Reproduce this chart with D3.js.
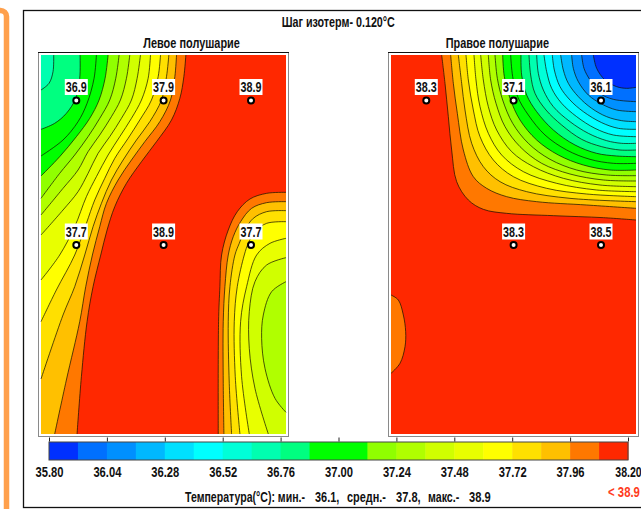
<!DOCTYPE html>
<html><head><meta charset="utf-8">
<script src="https://cdnjs.cloudflare.com/ajax/libs/d3/7.8.5/d3.min.js"></script>
<style>html,body{margin:0;background:#fff;overflow:hidden}svg{display:block}text{font-family:"Liberation Sans",sans-serif;font-weight:700;fill:#111}</style>
</head><body><script>
const bandColors=["#0030ff","#0070ff","#0090ff","#00b8ff","#00e0ff","#00ffff","#00ffd8","#00ffb0","#00ff80","#00ff00","#00ff00","#90ff00","#b0ff00","#d0ff00","#e8ff00","#ffff00","#ffe000","#ffc000","#ff7800","#ff2800"];
const tickValues=[35.80,36.04,36.28,36.52,36.76,37.00,37.24,37.48,37.72,37.96,38.20];
const electrodeRows=["top","top","top","mid","mid","mid"];
const electrodeCols=[0,1,2,0,1,2];
const leftTemps=["36.9","37.9","38.9","37.7","38.9","37.7"];
const rightTemps=["38.3","37.1","36.1",null,"38.3","38.5"];
const footerParts=["Температура(°C): мин.-","36.1,","средн.-","37.8,","макс.-","38.9"];
const footerStart=[185,315,347,396,428,469];
const footerEnd=[305,339.3,386,420.7,459.3,490.7];
const leftUpper=[
[38.08,[[558,165],[552,230],[540,295],[515,360],[470,425],[425,485],[380,550],[345,620],[322,690],[303,765],[280,860],[262,965],[245,1130],[232,1302]]],
[37.96,[[530,165],[525,230],[512,300],[480,365],[435,425],[395,480],[355,540],[320,610],[300,680],[278,765],[258,860],[240,965],[200,1140],[165,1302]]],
[37.84,[[507,165],[500,230],[485,300],[450,365],[410,420],[370,480],[335,540],[305,610],[280,680],[255,765],[225,860],[190,945],[124,1137]]],
[37.72,[[482,165],[475,230],[455,300],[420,360],[385,415],[345,475],[315,535],[285,600],[260,670],[225,765],[170,870],[124,965]]],
[37.60,[[452,165],[445,235],[425,300],[395,355],[360,410],[325,465],[290,530],[260,590],[225,680],[180,765],[124,840]]],
[37.48,[[422,165],[412,235],[395,300],[365,355],[330,410],[295,460],[265,520],[235,575],[190,630],[124,705]]],
[37.36,[[390,165],[380,235],[362,300],[335,350],[300,405],[265,455],[235,510],[190,565],[124,645]]],
[37.24,[[358,165],[348,235],[330,300],[300,355],[265,410],[225,465],[180,520],[124,595]]],
[37.12,[[325,165],[316,235],[298,300],[270,355],[230,410],[180,470],[124,528]]],
[37.00,[[290,165],[283,235],[262,310],[235,365],[190,420],[124,468]]],
[36.88,[[241,165],[240,235],[228,295],[200,340],[165,370],[124,388]]],
[36.76,[[162,165],[160,215],[148,250],[124,270]]]];
const leftLower=[
[38.08,[[858,577],[800,580],[750,597],[712,635],[685,690],[665,765],[660,860],[656,965],[655,1302]]],
[37.96,[[858,605],[800,608],[755,625],[722,665],[700,710],[685,765],[675,860],[670,965],[670,1150],[672,1302]]],
[37.84,[[858,632],[800,635],[760,655],[735,690],[718,730],[705,765],[690,860],[685,965],[688,1150],[695,1302]]],
[37.72,[[858,665],[800,670],[765,695],[745,730],[733,765],[712,860],[703,965],[706,1130],[720,1302]]],
[37.60,[[858,715],[810,730],[770,765],[740,860],[722,965],[725,1130],[748,1302]]],
[37.48,[[858,773],[800,795],[765,845],[748,935],[748,1045],[765,1165],[805,1302]]],
[37.36,[[858,845],[815,875],[790,945],[785,1015],[795,1105],[825,1195],[858,1237]]]];
const rightUpper=[
[38.08,[[365,165],[375,250],[385,350],[395,450],[410,545],[445,600],[490,628],[560,640],[700,647],[850,653],[948,660]]],
[37.96,[[392,165],[400,250],[412,340],[430,450],[460,530],[500,565],[560,590],[650,605],[800,615],[948,625]]],
[37.84,[[415,165],[425,250],[435,330],[455,430],[490,500],[540,545],[620,575],[750,595],[948,605]]],
[37.72,[[438,165],[445,240],[460,330],[480,410],[520,480],[580,530],[680,565],[800,582],[948,590]]],
[37.60,[[462,165],[468,240],[480,320],[505,400],[545,465],[610,515],[710,550],[830,570],[948,575]]],
[37.48,[[482,165],[490,240],[505,320],[530,390],[575,455],[640,500],[730,535],[840,555],[948,560]]],
[37.36,[[505,165],[512,240],[528,310],[555,380],[600,440],[665,490],[750,522],[850,540],[948,543]]],
[37.24,[[525,165],[532,235],[548,300],[578,370],[625,430],[690,478],[770,510],[860,525],[948,527]]],
[37.12,[[548,165],[553,230],[570,295],[600,360],[650,420],[715,465],[790,495],[870,510],[948,510]]],
[37.00,[[572,165],[578,230],[593,290],[625,345],[675,405],[740,450],[810,478],[880,490],[948,490]]],
[36.88,[[603,165],[605,225],[620,285],[650,335],[700,390],[765,435],[830,460],[890,468],[948,470]]],
[36.76,[[627,165],[632,225],[645,280],[678,330],[725,375],[785,418],[845,440],[900,450],[948,450]]],
[36.64,[[650,165],[655,220],[670,270],[700,320],[750,365],[805,400],[860,422],[905,430],[948,430]]],
[36.52,[[672,165],[680,215],[695,265],[725,310],[770,350],[825,385],[880,405],[948,410]]],
[36.40,[[697,165],[703,210],[720,260],[750,300],[790,335],[845,368],[895,385],[948,388]]],
[36.28,[[722,165],[730,210],[745,250],[775,290],[815,325],[860,350],[905,362],[948,365]]],
[36.16,[[755,165],[760,205],[775,245],[805,285],[845,312],[890,330],[948,335]]],
[36.04,[[785,165],[792,205],[810,240],[840,280],[880,298],[948,305]]],
[35.92,[[820,165],[830,205],[855,240],[890,260],[920,265],[948,262]]]];
const rightBump=[[38.08,[[213,885],[235,900],[250,945],[257,995],[255,1040],[240,1090],[213,1120]]]];

const svg=d3.select("body").append("svg").attr("width",641).attr("height",509);
svg.append("rect").attr("x",-20).attr("y",10.5).attr("width",26.5).attr("height",520).attr("rx",6).attr("fill","none").attr("stroke","#ffa04c").attr("stroke-width",5.5);
svg.append("rect").attr("x",23.5).attr("y",10.5).attr("width",640).attr("height",497).attr("fill","#fff").attr("stroke","#111").attr("stroke-width",1.3);

const FS=15;
function label(x,y,len,t){
  const el=svg.append("text").attr("font-size",FS).text(t);
  const w=el.node().getComputedTextLength();
  el.attr("transform",`translate(${x},${y}) scale(${len/w},1)`);
  return el;
}
const band=d3.scaleQuantize().domain([35.8,38.2]).range(bandColors);
const below=l=>band(l-0.06);
const ty=d3.scaleLinear().domain([165,1302]).range([55,434]);
const colX=[76.3,163.6,251];
function panel(xDom,x0,families,temps,title,tx0,tw){
  const x1=x0+245;
  const tx=d3.scaleLinear().domain(xDom).range([x0,x1]);
  const line=d3.line().x(d=>tx(d[0])).y(d=>ty(d[1])).curve(d3.curveCatmullRom.alpha(0.5));
  svg.append("rect").attr("x",x0-2.5).attr("y",52.5).attr("width",250).attr("height",384).attr("fill","#fff").attr("stroke","#8a8a8a");
  svg.append("path").attr("d",`M${x0-3},52.5H${x1+3}`).attr("stroke","#111");
  const g=svg.append("g");
  g.append("rect").attr("x",x0).attr("y",55).attr("width",245).attr("height",379).attr("fill",band(38.1));
  const corner=(fam,pts)=>fam.corners(pts).map(c=>[tx(c[0]),ty(c[1])]);
  families.forEach(fam=>fam.lines.forEach(([l,pts])=>{
    const cs=corner(fam,pts);
    g.append("path").attr("d",line(pts)+cs.map(c=>"L"+c).join("")+"Z").attr("fill",below(l));
  }));
  families.forEach(fam=>fam.lines.forEach(([l,pts])=>{
    g.append("path").attr("d",line(pts)).attr("fill","none").attr("stroke","#101000").attr("stroke-width",0.7);
  }));
  label(tx0,48.3,tw,title);
  temps.forEach((t,i)=>{
    if(t===null)return;
    const cx=x0+colX[electrodeCols[i]]-41, cy=electrodeRows[i]==="top"?100.5:245;
    svg.append("rect").attr("x",cx-11.5).attr("y",cy-21.5).attr("width",23).attr("height",16).attr("fill","#fff");
    label(cx-10.5,cy-8.5,21,t);
    svg.append("circle").attr("cx",cx).attr("cy",cy).attr("r",3).attr("fill","#fff").attr("stroke","#000").attr("stroke-width",2);
  });
}
const TL=[124,165],BL=[124,1302],BR=[858,1302],TRr=[948,165];
panel([124,858],41,[
 {lines:leftUpper,corners:p=>p[p.length-1][1]===1302?[BL,TL]:[TL]},
 {lines:leftLower,corners:p=>p[p.length-1][1]===1302?[BR]:[]}],leftTemps,"Левое полушарие",143.3,96.7);
panel([213,948],391,[
 {lines:rightUpper,corners:()=>[TRr]},
 {lines:rightBump,corners:()=>[]}],rightTemps,"Правое полушарие",445.7,103.3);

label(281.7,27.3,113.3,"Шаг изотерм- 0.120°C");

const cx=d3.scaleLinear().domain([35.8,38.2]).range([49,628]);
const cb=svg.append("g");
cb.selectAll("rect").data(bandColors).join("rect")
 .attr("x",(d,i)=>cx(35.8+i*0.12)).attr("y",442).attr("height",18)
 .attr("width",(d,i)=>cx(35.8+(i+1)*0.12)-cx(35.8+i*0.12)+0.5).attr("fill",d=>d);
svg.append("rect").attr("x",49).attr("y",442).attr("width",579).attr("height",18).attr("fill","none").attr("stroke","#444");
const axT=svg.append("g").attr("transform","translate(0,441.5)").call(d3.axisTop(cx).tickValues(tickValues).tickSize(4).tickFormat(""));
axT.select(".domain").remove();
axT.selectAll("line").attr("stroke","#222");
const axB=svg.append("g").attr("transform","translate(0,460)").call(d3.axisBottom(cx).tickValues(tickValues).tickSize(0).tickFormat(d3.format(".2f")));
axB.select(".domain").remove();
axB.selectAll("text").each(function(d,i){
  const sel=d3.select(this).attr("font-size",FS).attr("font-family",null).attr("y",0).attr("dy",0).attr("text-anchor","start");
  const w=this.getComputedTextLength(), len=i===tickValues.length-1?26.5:28;
  sel.attr("transform",`translate(${-len/2},16.7) scale(${len/w},1)`);
});
footerParts.forEach((t,i)=>label(footerStart[i],501.7,footerEnd[i]-footerStart[i],t));
label(608,497.3,32,"< 38.9").style("fill","#ff3b20");
</script></body></html>
